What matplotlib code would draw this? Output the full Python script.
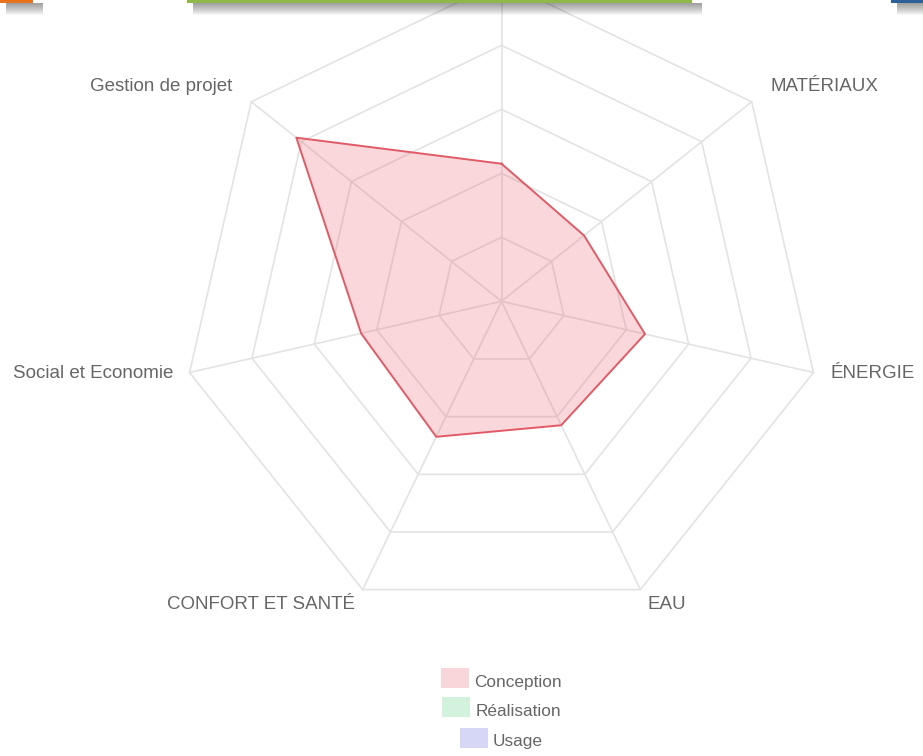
import numpy as np
import matplotlib.pyplot as plt
from matplotlib.patches import Rectangle

# the first axis (top) carries no visible label
categories = ['', 'MATÉRIAUX', 'ÉNERGIE', 'EAU',
              'CONFORT ET SANTÉ', 'Social et Economie', 'Gestion de projet']
conception = [43, 33, 46, 43, 47, 45, 82]

series_names = ['Conception', 'Réalisation', 'Usage']
series_colors = ['#f9d6da', '#d3f2de', '#d6d6f6']

ring_levels = [20, 40, 60, 80, 100]

W, H = 923, 756
plt.rcParams['font.family'] = ['Liberation Sans', 'DejaVu Sans']
GREY = '#666666'


def box(x, y, w, h, **kw):
    # rectangle given in pixels from the top-left corner of the figure
    return Rectangle((x / W, 1 - (y + h) / H), w / W, h / H,
                     transform=fig.transFigure, **kw)


def header_bar(x0, x1, color, h=3):
    for k in range(1, 13):
        fig.add_artist(box(x0 + 6, h, x1 - x0 + 4, k, facecolor='black',
                           edgecolor='none', alpha=0.035))
    fig.add_artist(box(x0, -2, x1 - x0, h + 2, facecolor=color,
                       edgecolor='none'))


def main():
    global fig
    fig = plt.figure(figsize=(W / 100, H / 100), dpi=100)

    # radar centre at (501.5, 301.3) px, outer ring radius 320 px
    cx, cy, R = 501.5, 301.3, 320
    ax = fig.add_axes([(cx - R) / W, (H - cy - R) / H, 2 * R / W, 2 * R / H],
                      projection='polar')
    ax.set_theta_zero_location('N')
    ax.set_theta_direction(-1)
    ax.set_ylim(0, 100)
    ax.grid(False)
    ax.set_xticks([])
    ax.set_yticks([])
    ax.spines['polar'].set_visible(False)
    ax.patch.set_alpha(0)

    n = len(categories)
    theta = np.linspace(0, 2 * np.pi, n, endpoint=False)
    closed = np.append(theta, theta[0])

    # heptagonal web
    for r in ring_levels:
        ax.plot(closed, [r] * (n + 1), color='#e3e3e3', lw=1.2, zorder=1,
                clip_on=False)
    for t in theta:
        ax.plot([t, t], [0, ring_levels[-1]], color='#e3e3e3', lw=1.2,
                zorder=1, clip_on=False)

    vals = np.append(conception, conception[0])
    ax.fill(closed, vals, facecolor='#e8626e', alpha=0.25, zorder=2)
    ax.plot(closed, vals, color='#e05b66', lw=1.4, zorder=3)

    for t, lab in zip(theta, categories):
        if not lab:
            continue
        s, c = np.sin(t), np.cos(t)
        ha = 'left' if s > 0.05 else ('right' if s < -0.05 else 'center')
        r_lab = 107.5 if c > 0.3 else 105.3
        dy = -3 if abs(c) < 0.3 else 0
        ax.annotate(lab, (t, r_lab), xytext=(0, -dy), textcoords='offset pixels',
                    ha=ha, va='center', fontsize=13.5, color=GREY,
                    annotation_clip=False)

    # legend, one centred row per series
    renderer = fig.canvas.get_renderer()
    bw, bh, gap = 28, 20, 5
    row_y = [678.3, 707.0, 737.5]
    for name, col, y in zip(series_names, series_colors, row_y):
        txt = fig.text(0, 1 - (y + 4) / H, name, va='center', fontsize=12.4,
                       color=GREY)
        tw = txt.get_window_extent(renderer).width
        x0 = cx - (bw + gap + tw) / 2
        fig.add_artist(box(x0, y - bh / 2, bw, bh, facecolor=col,
                           edgecolor='none'))
        txt.set_x((x0 + bw + gap) / W)

    header_bar(0, 33, '#e8731c')
    header_bar(187, 692, '#8db84a')
    header_bar(891, 923, '#2f5f99')

    fig.savefig('out.png', dpi=100)


if __name__ == '__main__':
    main()
